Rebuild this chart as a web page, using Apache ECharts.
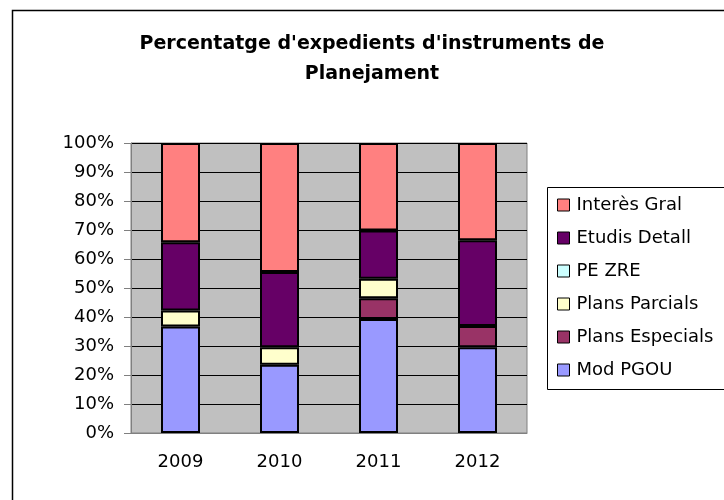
<!DOCTYPE html>
<html>
<head>
<meta charset="utf-8">
<script src="https://cdn.jsdelivr.net/npm/echarts@6/dist/echarts.min.js"></script>
<style>
  html, body { margin: 0; padding: 0; background: #fff; }
  #chart { width: 724px; height: 500px; }
</style>
</head>
<body>
<div id="chart"></div>
<script>
// anys
const years = ['2009', '2010', '2011', '2012'];
// percentatges per tipus (llegits del gràfic)
const modPgou = [36.7, 23.5, 39.3, 29.6];
const plansEspecials = [0, 0, 7.2, 7.3];
const plansParcials = [5.5, 6.1, 6.7, 0];
const peZre = [0, 0, 0, 0];
const etudisDetall = [23.6, 25.9, 16.6, 29.6];
const interesGral = [34.2, 44.5, 30.2, 33.5];

const seriesNames = ['Mod PGOU', 'Plans Especials', 'Plans Parcials', 'PE ZRE', 'Etudis Detall', 'Interès Gral'];
const seriesData = [modPgou, plansEspecials, plansParcials, peZre, etudisDetall, interesGral];
const colors = ['#9999FF', '#993366', '#FFFFCC', '#CCFFFF', '#660066', '#FF8080'];

const font = '"DejaVu Sans", sans-serif';
const chart = echarts.init(document.getElementById('chart'));

const option = {
  animation: false,
  textStyle: { fontFamily: font },
  title: {
    text: "Percentatge d'expedients d'instruments de\nPlanejament",
    left: 367,
    top: 24,
    textAlign: 'center',
    textStyle: { fontSize: 19, fontWeight: 'bold', color: '#000', lineHeight: 30, fontFamily: font }
  },
  graphic: [
    { type: 'rect', shape: { x: 12.5, y: 10.5, width: 900, height: 700 }, style: { fill: 'none', stroke: '#000', lineWidth: 1.5 }, z: -10 },
    { type: 'rect', shape: { x: 547.5, y: 187.5, width: 300, height: 202 }, style: { fill: 'none', stroke: '#000', lineWidth: 1 }, z: -5 }
  ],
  legend: {
    orient: 'vertical',
    left: 552,
    top: 190,
    icon: 'rect',
    itemWidth: 12,
    itemHeight: 12,
    itemGap: 13,
    data: seriesNames.slice().reverse(),
    textStyle: { fontSize: 18, color: '#000', lineHeight: 20, padding: [0, 0, 0, 2], fontFamily: font },
    itemStyle: { borderColor: '#000', borderWidth: 1 }
  },
  grid: {
    left: 131, top: 143, width: 396, height: 290,
    show: true, backgroundColor: '#C0C0C0', borderColor: '#808080', borderWidth: 1
  },
  xAxis: {
    type: 'category',
    data: years,
    axisLine: { lineStyle: { color: '#808080', width: 1 } },
    axisTick: { length: 5, lineStyle: { color: '#808080' } },
    axisLabel: { fontSize: 18, color: '#000', margin: 20 }
  },
  yAxis: {
    type: 'value',
    min: 0, max: 100, interval: 10,
    axisLine: { show: true, lineStyle: { color: '#808080', width: 1 } },
    axisTick: { show: true, length: 7, lineStyle: { color: '#808080' } },
    axisLabel: { fontSize: 18, color: '#000', margin: 17, formatter: '{value}%' },
    splitLine: { lineStyle: { color: '#000', width: 1 } }
  },
  series: seriesNames.map((name, i) => ({
    name: name,
    type: 'bar',
    stack: 'total',
    barWidth: 39,
    data: seriesData[i].map(v => (v === 0 ? '-' : v)),
    itemStyle: { color: colors[i], borderColor: '#000', borderWidth: 2 }
  }))
};

chart.setOption(option);
</script>
</body>
</html>
